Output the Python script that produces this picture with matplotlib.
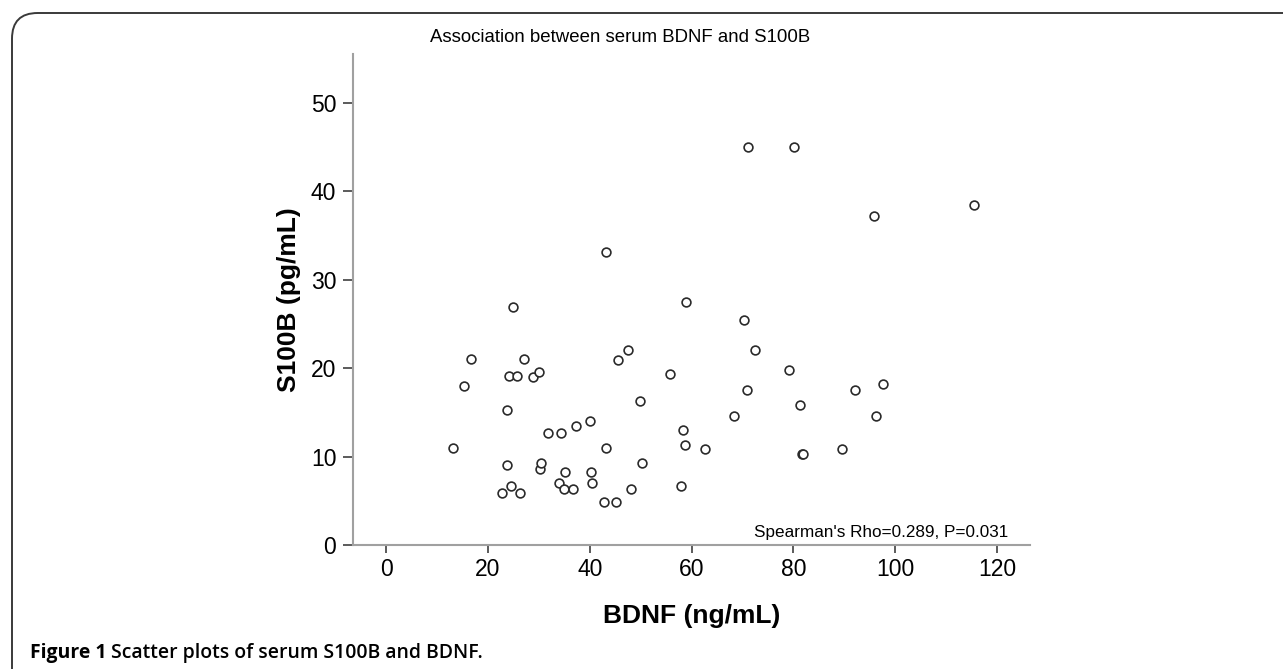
import matplotlib
matplotlib.use("Agg")
import matplotlib.pyplot as plt
from matplotlib.patches import FancyBboxPatch

# ---- data ----
bdnf = [13.1, 15.3, 16.7, 22.7, 23.7, 23.7, 24.2, 24.5, 25.0, 25.8, 26.4, 27.0,
        28.8, 30.1, 30.3, 30.5, 31.8, 33.9, 34.4, 35.0, 35.2, 36.7, 37.3, 40.0,
        40.2, 40.5, 42.9, 43.3, 43.3, 45.1, 45.6, 47.6, 48.1, 49.8, 50.2, 55.8,
        58.0, 58.4, 58.8, 58.9, 62.7, 68.4, 70.3, 70.9, 71.1, 72.5, 79.2, 80.2,
        81.3, 81.8, 82.0, 89.5, 92.2, 95.9, 96.3, 97.7, 115.5]
s100b = [11.0, 18.0, 21.0, 5.9, 15.3, 9.0, 19.1, 6.7, 26.9, 19.1, 5.9, 21.0,
         19.0, 19.6, 8.6, 9.3, 12.7, 7.0, 12.7, 6.3, 8.2, 6.3, 13.5, 14.0,
         8.2, 7.0, 4.9, 11.0, 33.1, 4.9, 20.9, 22.0, 6.3, 16.3, 9.3, 19.3,
         6.7, 13.0, 11.3, 27.5, 10.8, 14.6, 25.4, 17.5, 45.0, 22.0, 19.8, 45.0,
         15.8, 10.3, 10.3, 10.8, 17.5, 37.2, 14.6, 18.2, 38.4]
x_ticks = [0, 20, 40, 60, 80, 100, 120]
y_ticks = [0, 10, 20, 30, 40, 50]
title = "Association between serum BDNF and S100B"
x_label = "BDNF (ng/mL)"
y_label = "S100B (pg/mL)"
stat_text = "Spearman's Rho=0.289, P=0.031"
caption_bold = "Figure 1"
caption_rest = " Scatter plots of serum S100B and BDNF."

W, H = 1283, 669
DPI = 100
fig = plt.figure(figsize=(W / DPI, H / DPI), dpi=DPI)
fig.patch.set_facecolor("white")

def fx(px):
    return px / W

def fy(py):
    return 1 - py / H

# rounded frame (runs off right and bottom)
frame = FancyBboxPatch((fx(12), fy(720)), fx(1400), (720 - 13) / H,
                       boxstyle="round,pad=0,rounding_size=0.02",
                       transform=fig.transFigure, fill=False,
                       edgecolor="#3a3a3a", linewidth=1.4, clip_on=False,
                       mutation_aspect=W / H)
fig.patches.append(frame)

ax_l, ax_r, ax_t, ax_b = 353, 1030, 54, 545
ax = fig.add_axes([fx(ax_l), fy(ax_b), (ax_r - ax_l) / W, (ax_b - ax_t) / H])

ax.scatter(bdnf, s100b, s=40, facecolors="white", edgecolors="#2a2a2a",
           linewidths=1.2, zorder=3, clip_on=False)

ax.set_xlim(-6.5, 126.5)
ax.set_ylim(0, 55.5)
ax.set_xticks(x_ticks)
ax.set_yticks(y_ticks)

font = "Liberation Sans"
for sp in ["top", "right"]:
    ax.spines[sp].set_visible(False)
for sp in ["left", "bottom"]:
    ax.spines[sp].set_color("#a0a0a0")
    ax.spines[sp].set_linewidth(1.5)

ax.tick_params(axis="y", direction="out", length=7, width=1.2, color="#404040",
               pad=5, labelsize=16.5)
ax.tick_params(axis="x", direction="out", length=6, width=1.2, color="#404040",
               pad=3, labelsize=16.5)
for lab in ax.get_xticklabels() + ax.get_yticklabels():
    lab.set_fontfamily(font)

fig.text(fx((ax_l + ax_r) / 2), fy(616), x_label, ha="center", va="center",
         fontsize=19, fontweight="bold", family=font)
fig.text(fx(289), fy((ax_t + ax_b) / 2), y_label, ha="center", va="center",
         rotation=90, fontsize=19, fontweight="bold", family=font)

fig.text(fx(620), fy(38), title, ha="center", va="center", fontsize=13.4,
         family=font)

ax.text(1008 / W, fy(537), stat_text, transform=fig.transFigure,
        ha="right", va="baseline", fontsize=12.3, family=font)

# caption
renderer = fig.canvas.get_renderer()
cap_font = "Open Sans"
t1 = fig.text(fx(30), fy(653), caption_bold, ha="left", va="center",
              fontsize=12, fontweight="bold", family=cap_font)
bb = t1.get_window_extent(renderer)
t2 = fig.text(bb.x1 / W, fy(653), caption_rest, ha="left", va="center",
              fontsize=12, fontweight="semibold", family=cap_font)
bb2 = t2.get_window_extent(renderer)
total = bb2.x1 - bb.x0
scale = 452 / total
for t in (t1, t2):
    t.set_fontsize(12 * scale)
bb = t1.get_window_extent(renderer)
t2.set_x(bb.x1 / W)

fig.savefig("out.png", dpi=DPI, facecolor="white")
